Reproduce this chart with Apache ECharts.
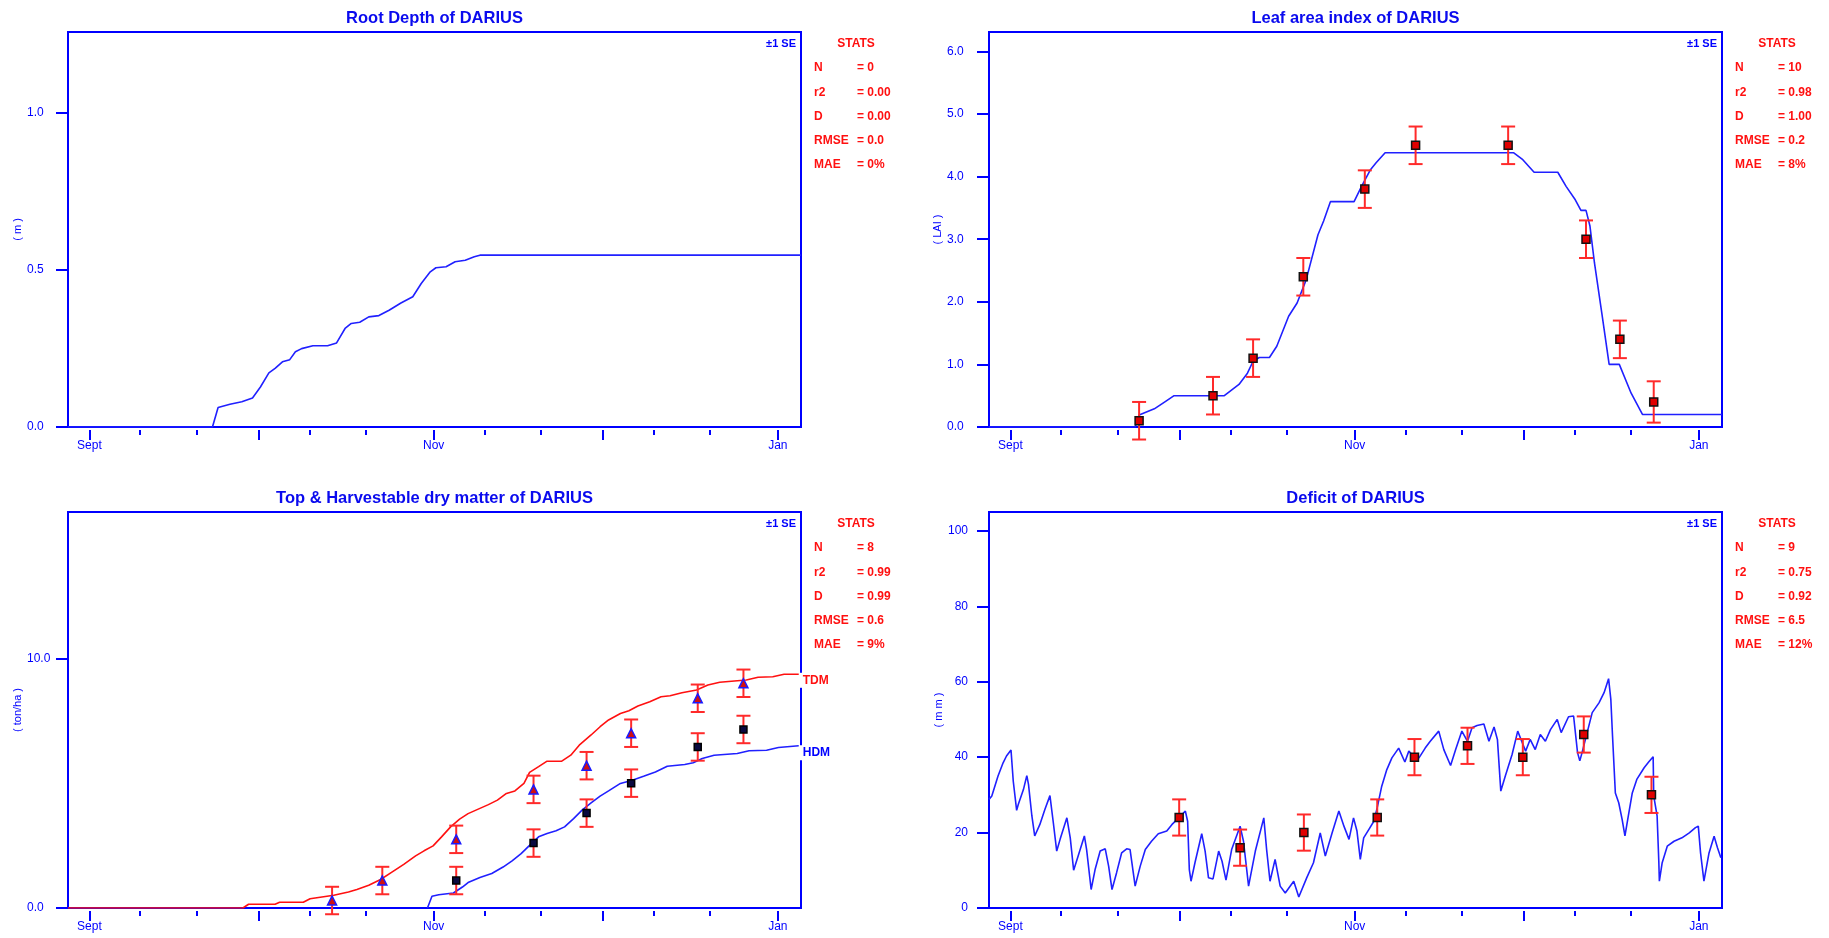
<!DOCTYPE html>
<html><head><meta charset="utf-8">
<script src="https://cdn.jsdelivr.net/npm/echarts@6/dist/echarts.min.js"></script>
<style>html,body{margin:0;padding:0;background:#fff}#c{width:1829px;height:938px}</style>
</head><body><div id="c"></div><script>
// ---------- DATA (x = days after 1 Sept) ----------
const titles = ['Root Depth of DARIUS','Leaf area index of DARIUS','Top & Harvestable dry matter of DARIUS','Deficit of DARIUS'];
const yNames = ['( m )','( LAI )','( ton/ha )','( m m )'];
const monthTickValues = [0, 61, 122];
const monthNames = ['Sept', 'Nov', 'Jan'];
const majorTicks = [0, 30, 61, 91, 122];
const minorTicks = [9, 19, 39, 49, 70, 80, 100, 110];
const yTicksRoot = [0, 0.5, 1.0];
const yTicksLai = [0, 1, 2, 3, 4, 5, 6];
const yTicksDm = [0, 10];
const yTicksDef = [0, 20, 40, 60, 80, 100];
const statNames = ['N', 'r2', 'D', 'RMSE', 'MAE'];
const statsRoot = ['0', '0.00', '0.00', '0.0', '0%'];
const statsLai = ['10', '0.98', '1.00', '0.2', '8%'];
const statsDm = ['8', '0.99', '0.99', '0.6', '9%'];
const statsDef = ['9', '0.75', '0.92', '6.5', '12%'];

const rootSim = [[-3.8,0],[21.8,0],[22.8,0.062],[24.9,0.072],[27,0.08],[28.9,0.092],[30.3,0.127],[31.8,0.172],[32.9,0.186],[34.2,0.207],[35.5,0.214],[36.5,0.239],[37.6,0.249],[39.6,0.258],[42.2,0.258],[43.8,0.267],[45.3,0.313],[46.4,0.329],[47.9,0.333],[49.5,0.35],[51.3,0.354],[53.1,0.371],[55.2,0.394],[57.3,0.414],[58.8,0.456],[60.4,0.493],[61.4,0.506],[63.2,0.509],[64.8,0.525],[66.6,0.53],[68.2,0.541],[69.2,0.546],[126.1,0.546]];

const laiSim = [[-3.8,0],[22.1,0],[22.8,0.19],[25.5,0.29],[27.5,0.41],[29,0.5],[37.9,0.5],[40.5,0.68],[42,0.86],[43,1.05],[44.1,1.11],[45.9,1.11],[47.2,1.29],[49.3,1.77],[50.8,1.98],[52.4,2.35],[54.5,3.07],[55.5,3.29],[56.7,3.6],[60.9,3.6],[62.2,3.84],[63.8,4.11],[64.8,4.22],[66.4,4.38],[89.2,4.38],[90.8,4.27],[92.8,4.07],[97,4.07],[98.5,3.84],[100.1,3.63],[101.1,3.46],[102,3.46],[102.7,3.21],[103.5,2.62],[104.8,1.82],[106.1,1.0],[107.9,1.0],[110,0.54],[112,0.2],[126.1,0.2]];
const laiObs = [[22.8,0.1],[35.9,0.5],[43,1.1],[51.9,2.4],[62.8,3.8],[71.8,4.5],[88.2,4.5],[102,3.0],[108,1.4],[114,0.4]];
const laiSE = [0.3,0.3,0.3,0.3,0.3,0.3,0.3,0.3,0.3,0.33];

const tdmSim = [[-3.8,0],[27.2,0],[28.2,0.15],[32.9,0.15],[33.7,0.23],[37.9,0.23],[39.1,0.37],[41.2,0.44],[43.3,0.51],[45.9,0.64],[47.4,0.74],[49.5,0.91],[51.6,1.14],[53.6,1.44],[55.7,1.75],[57.8,2.09],[59.3,2.29],[60.9,2.49],[62.4,2.85],[64,3.25],[65.6,3.56],[67.1,3.78],[68.7,3.94],[70.7,4.14],[72.3,4.32],[73.9,4.59],[75.4,4.69],[77,4.99],[78,5.43],[79.6,5.66],[81.1,5.88],[83.7,5.88],[85.3,6.12],[86.8,6.52],[88.9,6.93],[90.5,7.26],[92,7.53],[94.1,7.79],[95.6,7.9],[97.2,8.09],[99.3,8.26],[101.3,8.46],[102.9,8.5],[105,8.62],[107.6,8.73],[109.6,8.93],[111.7,9.04],[114.3,9.09],[116.4,9.13],[118.5,9.24],[121.1,9.26],[123.1,9.36],[125.7,9.36]];
const hdmSim = [[59.9,0],[60.7,0.47],[61.9,0.53],[64.5,0.6],[66.1,0.84],[67.1,1.02],[69.2,1.22],[71.3,1.38],[73.3,1.64],[74.9,1.89],[76.5,2.18],[78,2.51],[79.6,2.85],[81.1,2.98],[82.7,3.09],[84.2,3.25],[85.8,3.58],[87.3,3.92],[88.9,4.21],[90.5,4.48],[92,4.69],[94.1,4.99],[96.2,5.12],[98.2,5.28],[100.3,5.45],[102.4,5.68],[105.5,5.75],[107,5.82],[108.6,5.99],[110.7,6.12],[114.8,6.19],[116.9,6.3],[120,6.32],[122.1,6.43],[125.7,6.5]];
const tdmObs = [[43,0.3],[51.9,1.1],[65,2.75],[78.7,4.75],[88.1,5.7],[96,7.0],[107.8,8.4],[115.9,9.0]];
const tdmSE = [0.55,0.55,0.55,0.55,0.55,0.55,0.55,0.55];
const hdmObs = [[65,1.1],[78.7,2.6],[88.1,3.8],[96,5.0],[107.8,6.45],[115.9,7.15]];
const hdmSE = [0.55,0.55,0.55,0.55,0.55,0.55];

const defSim = [[-3.8,28.8],[-3.3,29.7],[-2.2,35],[-1.3,38.5],[-0.7,40.3],[0.1,41.9],[0.5,33.6],[1.1,25.9],[1.4,27.5],[2.3,31.4],[2.9,35.1],[3.2,32.8],[3.8,24.4],[4.3,19.1],[5.2,22.1],[6.1,26.1],[7,29.8],[7.6,22.6],[8.2,15.1],[8.8,18.2],[10,23.9],[10.6,18.6],[11.2,10],[12,13.8],[13.1,19.1],[13.5,15.5],[14.3,4.9],[15,10.2],[15.9,15.1],[16.8,15.7],[17.4,11.1],[18,4.9],[18.8,9.3],[19.7,14.6],[20.6,15.7],[21.2,15.5],[22.1,5.8],[23,11.1],[23.9,15.5],[25,17.7],[26.2,19.7],[27.7,20.4],[28.6,22.1],[29.8,23.9],[31,25.7],[31.4,23],[31.7,10.2],[32,7.1],[32.7,12],[33.9,19.7],[34.5,15.1],[35.1,8],[35.9,7.7],[36.9,15.1],[37.5,12.4],[38.2,7.4],[39.2,15.5],[40.7,21.7],[41.3,17.7],[42.2,5.8],[43.4,15.1],[44.9,23.9],[45.4,15.5],[46,7.1],[46.9,12.9],[47.8,5.8],[48.7,4],[50.2,7.1],[51.1,2.9],[52.5,8],[53.7,12],[54.9,19.9],[55.8,13.8],[57,19.9],[58.2,25.7],[59.1,21.7],[60,18.2],[60.8,23.9],[61.4,20.5],[62,12.9],[62.6,18.6],[63.5,20.8],[64.4,23],[65,26.6],[65.8,32.3],[66.7,36.7],[67.6,39.8],[68.8,42.4],[69.9,38.7],[70.6,41.6],[71.5,40.1],[72.4,39.8],[73.5,42.4],[74.4,44.2],[75.9,46.9],[76.8,42],[78,37.8],[78.9,42],[80,46.9],[81,44.2],[81.8,47.8],[82.7,48.4],[83.9,48.8],[84.8,44.2],[85.7,48],[86.3,44.7],[86.9,31],[87.7,35],[88.9,40.7],[89.9,46.9],[90.6,44.2],[91.3,41.6],[92.1,44.7],[93,42],[93.9,46],[94.8,44.2],[95.7,47.3],[96.9,50],[97.6,46.5],[98.9,50.7],[99.8,50.9],[100.5,41.2],[100.9,39],[101.3,41.2],[102.2,46.5],[103.1,51.8],[104.3,54.4],[105.2,57.1],[106,60.8],[106.4,55.3],[106.7,45.6],[107.2,30.5],[107.8,27.9],[108.4,23.5],[108.9,19.1],[109.5,24.4],[110.2,30.5],[111,34.1],[112.3,37.2],[113.1,38.7],[113.9,40.1],[114,29.7],[114.6,24.4],[114.9,12.4],[115,7.1],[115.5,12],[116.4,16.4],[117.6,17.7],[119,18.6],[120.3,19.9],[121.4,21.3],[121.9,21.7],[122.3,14.6],[122.9,7.1],[123.8,14.6],[124.7,19],[125.3,16],[125.9,13.3]];
const defObs = [[29.9,24],[40.7,16],[52,20],[65,24],[71.6,40],[81,43],[90.8,40],[101.6,46],[113.6,30]];
const defSE = [4.8,4.8,4.8,4.8,4.8,4.8,4.8,4.8,4.8];

// ---------- LAYOUT / STYLE ----------
const BLUE = '#0000ff', LBLUE = '#2020ff', RED = '#ff1010', EBAR = '#ff2a2a';
const FONT = '"Liberation Sans", Arial, sans-serif';
const X_MIN = -3.8, X_MAX = 126.1;
const grids = [
  {left: 68, top: 32, width: 733, height: 395},
  {left: 989, top: 32, width: 733, height: 395},
  {left: 68, top: 512, width: 733, height: 396},
  {left: 989, top: 512, width: 733, height: 396}
];
const yCfg = [
  {max: 1.255, ticks: yTicksRoot, dec: 1, align: 'left', margin: 41},
  {max: 6.31, ticks: yTicksLai, dec: 1, align: 'left', margin: 42},
  {max: 15.86, ticks: yTicksDm, dec: 1, align: 'left', margin: 41},
  {max: 105, ticks: yTicksDef, dec: 0, align: 'right', margin: 21}
];
const allStats = [statsRoot, statsLai, statsDm, statsDef];

const chart = echarts.init(document.getElementById('c'), null, {renderer: 'canvas'});

const xAxes = [], yAxes = [];
grids.forEach((g, i) => {
  xAxes.push({
    gridIndex: i, type: 'value', position: 'bottom', min: X_MIN, max: X_MAX, offset: 3,
    axisLine: {show: false, onZero: false}, splitLine: {show: false},
    axisTick: {show: true, length: 10, customValues: majorTicks, lineStyle: {color: BLUE, width: 2}},
    axisLabel: {show: true, customValues: monthTickValues, margin: 10,
      formatter: v => monthNames[monthTickValues.indexOf(v)] || '',
      color: BLUE, fontSize: 12, fontFamily: FONT}
  });
  xAxes.push({
    gridIndex: i, type: 'value', position: 'bottom', min: X_MIN, max: X_MAX, offset: 3,
    axisLine: {show: false, onZero: false}, splitLine: {show: false},
    axisTick: {show: true, length: 5, customValues: minorTicks, lineStyle: {color: BLUE, width: 2}},
    axisLabel: {show: false}
  });
  const c = yCfg[i];
  yAxes.push({
    gridIndex: i, type: 'value', position: 'left', min: 0, max: c.max,
    axisLine: {show: false, onZero: false}, splitLine: {show: false},
    axisTick: {show: true, length: 12, customValues: c.ticks, lineStyle: {color: BLUE, width: 2}},
    axisLabel: {show: true, customValues: c.ticks, align: c.align, margin: c.margin,
      formatter: v => v.toFixed(c.dec), color: BLUE, fontSize: 12, fontFamily: FONT},
    name: yNames[i], nameLocation: 'middle', nameGap: 42, nameRotate: 90,
    nameTextStyle: {color: BLUE, fontSize: 11, fontFamily: FONT}
  });
});

function lineSeries(gi, data, color, extra) {
  return Object.assign({
    type: 'line', xAxisIndex: gi * 2, yAxisIndex: gi, data: data,
    showSymbol: false, symbol: 'none', animation: false, silent: true,
    lineStyle: {color: color, width: 1.6}, z: 2
  }, extra || {});
}
function errSeries(gi, obs, se) {
  return {
    type: 'custom', xAxisIndex: gi * 2, yAxisIndex: gi, silent: true, clip: false, z: 3,
    data: obs.map((p, k) => [p[0], p[1] - se[k], p[1] + se[k]]),
    renderItem: (params, api) => {
      const x = api.value(0);
      const lo = api.coord([x, api.value(1)]);
      const hi = api.coord([x, api.value(2)]);
      const w = 7;
      const st = {stroke: EBAR, lineWidth: 2, fill: null};
      return {type: 'group', children: [
        {type: 'line', shape: {x1: lo[0], y1: lo[1], x2: hi[0], y2: hi[1]}, style: st},
        {type: 'line', shape: {x1: lo[0] - w, y1: lo[1], x2: lo[0] + w, y2: lo[1]}, style: st},
        {type: 'line', shape: {x1: hi[0] - w, y1: hi[1], x2: hi[0] + w, y2: hi[1]}, style: st}
      ]};
    }
  };
}
function obsSeries(gi, obs, symbol, size, fill, border) {
  return {
    type: 'scatter', xAxisIndex: gi * 2, yAxisIndex: gi, data: obs, silent: true,
    symbol: symbol, symbolSize: size, z: 4,
    itemStyle: {color: fill, borderColor: border, borderWidth: 1.5, opacity: 1}
  };
}

const series = [
  lineSeries(0, rootSim, LBLUE),
  lineSeries(1, laiSim, LBLUE),
  errSeries(1, laiObs, laiSE),
  obsSeries(1, laiObs, 'rect', 8, '#e00000', '#111'),
  lineSeries(2, tdmSim, RED, {endLabel: {show: true, formatter: 'TDM', color: RED, fontWeight: 'bold',
    fontSize: 12, fontFamily: FONT, backgroundColor: '#fff', padding: [2, 2, 1, 3], distance: 1, offset: [0, 6]}}),
  lineSeries(2, hdmSim, LBLUE, {endLabel: {show: true, formatter: 'HDM', color: BLUE, fontWeight: 'bold',
    fontSize: 12, fontFamily: FONT, backgroundColor: '#fff', padding: [2, 2, 1, 3], distance: 1, offset: [0, 7]}}),
  errSeries(2, tdmObs, tdmSE),
  errSeries(2, hdmObs, hdmSE),
  obsSeries(2, tdmObs, 'triangle', 9, '#d01010', '#1a1aff'),
  obsSeries(2, hdmObs, 'rect', 7, '#0a0a40', '#000'),
  lineSeries(3, defSim, LBLUE),
  errSeries(3, defObs, defSE),
  obsSeries(3, defObs, 'rect', 8, '#e00000', '#111')
];

const graphics = [];
grids.forEach((g, i) => {
  const R = g.left + g.width;
  graphics.push({type: 'text', x: g.left + g.width / 2, y: g.top - 14, z: 10,
    style: {text: titles[i], fill: '#0a0aee', font: 'bold 16.5px ' + FONT, align: 'center', verticalAlign: 'middle'}});
  graphics.push({type: 'text', x: R - 5, y: g.top + 12, z: 10,
    style: {text: '\u00b11 SE', fill: BLUE, font: 'bold 11px ' + FONT, align: 'right', verticalAlign: 'middle'}});
  graphics.push({type: 'text', x: R + 55, y: g.top + 12, z: 10,
    style: {text: 'STATS', fill: RED, font: 'bold 12px ' + FONT, align: 'center', verticalAlign: 'middle'}});
  statNames.forEach((nm, k) => {
    const y = g.top + 36 + k * 24.2;
    graphics.push({type: 'text', x: R + 13, y: y, z: 10,
      style: {text: nm, fill: RED, font: 'bold 12px ' + FONT, align: 'left', verticalAlign: 'middle'}});
    graphics.push({type: 'text', x: R + 56, y: y, z: 10,
      style: {text: '= ' + allStats[i][k], fill: RED, font: 'bold 12px ' + FONT, align: 'left', verticalAlign: 'middle'}});
  });
});

chart.setOption({
  animation: false,
  backgroundColor: '#ffffff',
  grid: grids.map(g => Object.assign({show: true, borderColor: BLUE, borderWidth: 2, containLabel: false}, g)),
  xAxis: xAxes,
  yAxis: yAxes,
  series: series,
  graphic: graphics
});
</script></body></html>
